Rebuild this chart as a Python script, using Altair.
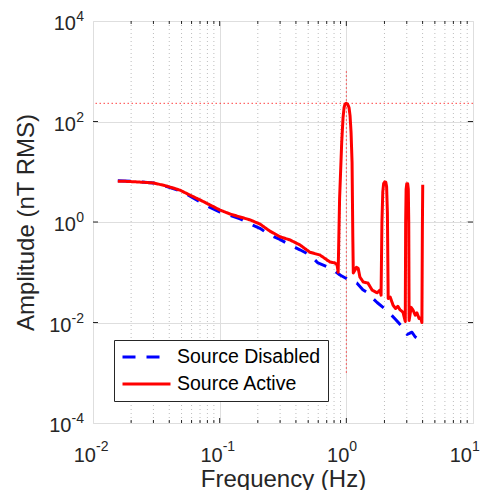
import altair as alt
import pandas as pd

# ---------------- data ----------------
series_names = ["Source Disabled", "Source Active"]
series_colors = ["#0000ff", "#ff0000"]

dis_freq = [0.0157, 0.0215, 0.0298, 0.037, 0.0486, 0.058, 0.070, 0.084, 0.1007, 0.121,
            0.145, 0.164, 0.174, 0.208, 0.249, 0.299, 0.359, 0.43, 0.516, 0.597,
            0.70, 0.787, 0.891, 1.0, 1.067, 1.21, 1.35, 1.48, 1.60, 1.75,
            1.95, 2.21, 2.45, 2.65, 2.85, 3.02, 3.12, 3.30, 3.49, 3.70, 3.96]
dis_amp = [6.6, 6.4, 6.0, 5.2, 4.2, 3.3, 2.5, 1.95, 1.58, 1.35,
           1.15, 1.0, 0.91, 0.75, 0.55, 0.45, 0.35, 0.28, 0.22, 0.153,
           0.13, 0.111, 0.088, 0.075, 0.066, 0.061, 0.045, 0.039, 0.031, 0.025,
           0.020, 0.0150, 0.0115, 0.0092, 0.0075, 0.0058, 0.0060, 0.0064, 0.0052, 0.0047, 0.0039]

act_freq = [0.0157, 0.0179, 0.0215, 0.0255, 0.0298, 0.037, 0.0435, 0.0486, 0.058, 0.070,
            0.084, 0.1007, 0.121, 0.145, 0.174, 0.208, 0.249, 0.299, 0.33, 0.359,
            0.43, 0.516, 0.619, 0.743, 0.813, 0.845, 0.862, 0.885, 0.92, 0.942,
            0.96, 0.976, 1.0, 1.025, 1.05, 1.07, 1.09, 1.11, 1.125, 1.135,
            1.17, 1.20, 1.24, 1.28, 1.36, 1.48, 1.60, 1.75, 1.84, 1.88,
            1.91, 1.94, 1.97, 2.01, 2.05, 2.08, 2.11, 2.14, 2.22, 2.34,
            2.45, 2.55, 2.65, 2.80, 2.92, 2.94, 2.965, 3.0, 3.05, 3.085,
            3.11, 3.13, 3.25, 3.36, 3.50, 3.61, 3.75, 3.86, 3.95, 3.985, 4.01]
act_amp = [6.5, 6.45, 6.3, 6.15, 6.0, 5.3, 4.7, 4.3, 3.45, 2.75,
           2.18, 1.73, 1.44, 1.26, 1.10, 0.91, 0.66, 0.51, 0.47, 0.44,
           0.35, 0.25, 0.22, 0.16, 0.153, 0.14, 0.10, 3.0, 40, 120,
           190, 220, 230, 220, 190, 130, 60, 15, 0.5, 0.097,
           0.11, 0.125, 0.12, 0.08, 0.064, 0.061, 0.044, 0.039, 0.044, 0.035,
           1.0, 4.0, 5.8, 6.3, 6.2, 5.0, 1.5, 0.03, 0.032, 0.022,
           0.019, 0.021, 0.018, 0.016, 0.0105, 1.0, 4.5, 5.8, 5.8, 4.5,
           1.0, 0.011, 0.02, 0.0177, 0.014, 0.0155, 0.012, 0.0123, 0.0100, 0.8, 5.5]

x_ticks = [0.01, 0.1, 1, 10]
x_exps = ["-2", "-1", "0", "1"]
y_ticks = [1e4, 1e2, 1, 1e-2, 1e-4]
y_exps = ["4", "2", "0", "-2", "-4"]
x_minor = [m * 10.0 ** k for k in (-2, -1, 0) for m in range(2, 10)]
x_inner_major = [0.1, 1]
y_inner_major = [1e2, 1, 1e-2]
peak_freq = [1.0]
peak_amp = [230]
marker_lo = [1e-3]
marker_hi = [1e3]

# ---------------- styling ----------------
W, H = 380, 402
FONT = "Liberation Sans"
INK = "#262626"

xs = alt.Scale(type="log", domain=[0.01, 10], nice=False)
ys = alt.Scale(type="log", domain=[1e-4, 1e4], nice=False)

x_axis = alt.Axis(values=x_ticks, grid=True, gridColor="#dedede", gridWidth=1,
                  labels=False, ticks=False, domain=False,
                  title="Frequency (Hz)", titleFont=FONT, titleFontSize=24,
                  titleFontWeight="normal", titleColor=INK, titlePadding=44)
y_axis = alt.Axis(values=y_ticks, grid=True, gridColor="#dedede", gridWidth=1,
                  labels=False, ticks=False, domain=False,
                  title="Amplitude (nT RMS)", titleFont=FONT, titleFontSize=24,
                  titleFontWeight="normal", titleColor=INK, titlePadding=55)

legend = alt.Legend(orient="none", legendX=21, legendY=319, title=None,
                    symbolType="stroke", symbolSize=2304, symbolStrokeWidth=3,
                    clipHeight=20, rowPadding=7, padding=7, labelOffset=5,
                    labelFont=FONT, labelFontSize=19.5, labelColor="black",
                    labelLimit=300, strokeColor=INK, fillColor="white")

lines = pd.DataFrame({
    "f": dis_freq + act_freq,
    "a": dis_amp + act_amp,
    "s": [series_names[0]] * len(dis_freq) + [series_names[1]] * len(act_freq),
    "o": list(range(len(dis_freq))) + list(range(len(act_freq))),
})

color = alt.Color("s:N", scale=alt.Scale(domain=series_names, range=series_colors), legend=legend)
dash = alt.StrokeDash("s:N", scale=alt.Scale(domain=series_names, range=[[13, 11], [1, 0]]), legend=legend)

X = lambda f: alt.X(f, scale=xs, axis=x_axis)
Y = lambda f: alt.Y(f, scale=ys, axis=y_axis)

minor_grid = alt.Chart(pd.DataFrame({"v": x_minor})).mark_rule(
    color="#bdbdbd", strokeWidth=1, strokeDash=[1, 3]).encode(x=X("v:Q"))

vline = alt.Chart(pd.DataFrame({"f": peak_freq, "lo": marker_lo, "hi": marker_hi})).mark_rule(
    color="#ff0000", strokeWidth=1, strokeDash=[1.5, 2.5], opacity=0.75).encode(
    x=X("f:Q"), y=Y("lo:Q"), y2="hi:Q")
hline = alt.Chart(pd.DataFrame({"a": peak_amp})).mark_rule(
    color="#ff0000", strokeWidth=1, strokeDash=[1.5, 2.5], opacity=0.75).encode(y=Y("a:Q"))


def line_layer(name):
    return alt.Chart(lines).transform_filter(alt.datum.s == name).mark_line(
        strokeWidth=3, strokeJoin="round", clip=True).encode(
        x=X("f:Q"), y=Y("a:Q"), color=color, strokeDash=dash, order="o:Q")


dis_line = line_layer(series_names[0])
act_line = line_layer(series_names[1])

# inward ticks (box on all four sides)
xmin_df = pd.DataFrame({"v": x_minor})
xmaj_df = pd.DataFrame({"v": x_inner_major})
ymaj_df = pd.DataFrame({"v": y_inner_major})
tk = dict(color=INK, strokeWidth=1)
ticks = [
    alt.Chart(xmin_df).mark_rule(**tk).encode(x=X("v:Q"), y=alt.value(H - 3), y2=alt.value(H)),
    alt.Chart(xmin_df).mark_rule(**tk).encode(x=X("v:Q"), y=alt.value(0), y2=alt.value(3)),
    alt.Chart(xmaj_df).mark_rule(**tk).encode(x=X("v:Q"), y=alt.value(H - 5), y2=alt.value(H)),
    alt.Chart(xmaj_df).mark_rule(**tk).encode(x=X("v:Q"), y=alt.value(0), y2=alt.value(5)),
    alt.Chart(ymaj_df).mark_rule(**tk).encode(y=Y("v:Q"), x=alt.value(0), x2=alt.value(5)),
    alt.Chart(ymaj_df).mark_rule(**tk).encode(y=Y("v:Q"), x=alt.value(W - 5), x2=alt.value(W)),
]

# tick labels as 10 with superscript exponent
xl = pd.DataFrame({"v": x_ticks, "e": x_exps, "b": ["10"] * len(x_ticks)})
yl = pd.DataFrame({"v": y_ticks, "e": y_exps, "b": ["10"] * len(y_ticks)})
txt = dict(font=FONT, color=INK)


def x_label_pair(cond, dx):
    base = alt.Chart(xl).transform_filter(cond).mark_text(
        align="right", baseline="alphabetic", fontSize=20, dx=dx, **txt).encode(
        x=X("v:Q"), y=alt.value(H + 39), text="b:N")
    expo = alt.Chart(xl).transform_filter(cond).mark_text(
        align="left", baseline="alphabetic", fontSize=14, dx=dx, **txt).encode(
        x=X("v:Q"), y=alt.value(H + 28), text="e:N")
    return [base, expo]


labels = x_label_pair("datum.v < 10", 3) + x_label_pair("datum.v >= 10", -1) + [
    alt.Chart(yl).mark_text(align="right", baseline="alphabetic", fontSize=14, dy=0, **txt).encode(
        y=Y("v:Q"), x=alt.value(-9), text="e:N"),
    alt.Chart(yl).transform_filter("length(datum.e) == 1").mark_text(
        align="right", baseline="alphabetic", fontSize=20, dy=9, dx=-8, **txt).encode(
        y=Y("v:Q"), x=alt.value(-9), text="b:N"),
    alt.Chart(yl).transform_filter("length(datum.e) == 2").mark_text(
        align="right", baseline="alphabetic", fontSize=20, dy=9, dx=-12.5, **txt).encode(
        y=Y("v:Q"), x=alt.value(-9), text="b:N"),
]

chart = alt.layer(minor_grid, vline, hline, dis_line, act_line, *ticks, *labels).properties(
    width=W, height=H,
    padding={"left": 85, "top": 13, "right": 7, "bottom": 67},
    autosize=alt.AutoSizeParams(type="none"),
).configure_view(stroke=INK, strokeWidth=1).configure(background="white")

chart.save("out.html", embed_options={"renderer": "svg", "actions": False})
